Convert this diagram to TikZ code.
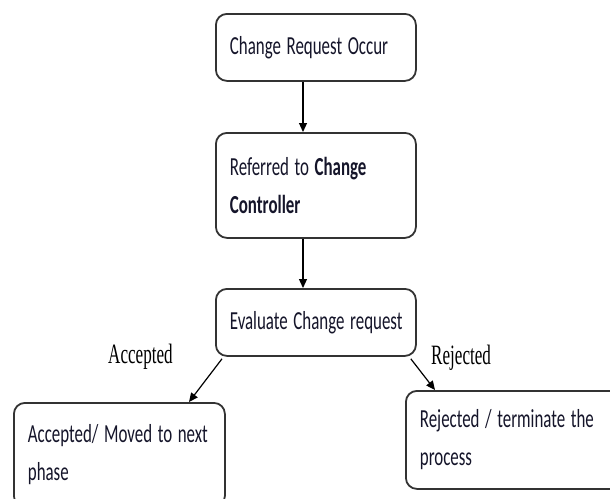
\documentclass[tikz,border=0pt]{standalone}
\usepackage{fontspec}
\usepackage{graphicx}
\usetikzlibrary{arrows.meta,calc}
\newfontfamily\boxfont{Carlito}
\newfontfamily\labfont{Liberation Serif}
\newcommand\condtext[1]{\scalebox{0.65}[1]{#1}}
\newcommand\condlab[1]{\scalebox{0.61}[1]{#1}}
\definecolor{edgegray}{HTML}{333333}
\definecolor{txt}{HTML}{15152A}
\tikzset{
  flowbox/.style={draw=edgegray, line width=1.8pt, rounded corners=11pt, fill=white,
    anchor=north west, inner xsep=14pt, inner ysep=0pt, align=left, text=txt,
    font={\boxfont\fontsize{26}{38}\selectfont}},
  flowarrow/.style={draw=black, line width=1.2pt, -{Triangle[length=9pt,width=8pt]}},
  branchlabel/.style={anchor=base west, inner sep=0pt, text=black,
    font={\labfont\fontsize{28}{30}\selectfont}}
}
\begin{document}
\begin{tikzpicture}[x=1pt,y=-1pt]
\useasboundingbox (0,0) rectangle (610,498);
\begin{scope}
\clip (0,0) rectangle (610,498);
\node[flowbox, minimum width=198pt, minimum height=67pt, text width=172pt] (b1) at (215,13) {\condtext{Change Request Occur}};
\node[flowbox, minimum width=198pt, minimum height=105pt, text width=172pt] (b2) at (215,132) {\condtext{Referred to \textbf{Change}}\\\condtext{\textbf{Controller}}};
\node[flowbox, minimum width=198pt, minimum height=67pt, text width=172pt] (b3) at (215,288) {\condtext{Evaluate Change request}};
\node[flowbox, minimum width=209pt, minimum height=104pt, text width=183pt] (b4) at (13,402) {\condtext{Accepted/ Moved to next}\\\condtext{phase}};
\node[flowbox, minimum width=222pt, minimum height=98pt, text width=196pt] (b5) at (405,390) {\condtext{Rejected / terminate the}\\\condtext{process}};
\end{scope}
\draw[flowarrow] ([xshift=88pt]b1.south west) -- ([xshift=88pt]b2.north west);
\draw[flowarrow] ([xshift=88pt]b2.south west) -- ([xshift=88pt]b3.north west);
\draw[flowarrow] ([xshift=7pt,yshift=-2pt]b3.south west) -- ([xshift=176pt]b4.north west);
\draw[flowarrow] ([xshift=-6pt,yshift=-2pt]b3.south east) -- ([xshift=30pt]b5.north west);
\node[branchlabel] (lacc) at (108,363) {\condlab{Accepted}};
\node[branchlabel] (lrej) at (431,364) {\condlab{Rejected}};
\end{tikzpicture}
\end{document}
